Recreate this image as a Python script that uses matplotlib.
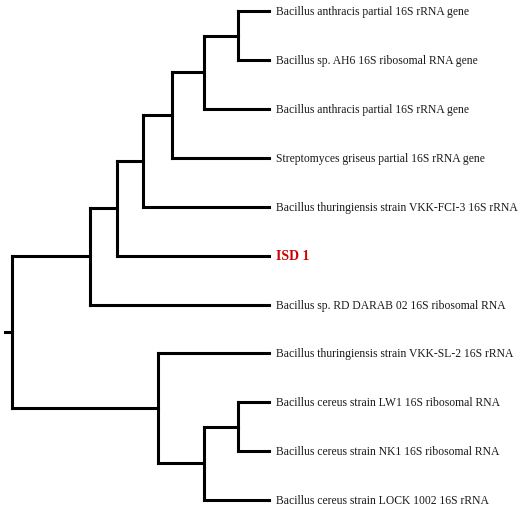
import matplotlib
matplotlib.use("Agg")
import matplotlib.pyplot as plt

# ---- data ----
leaf_labels = [
    "Bacillus anthracis partial 16S rRNA gene",
    "Bacillus sp. AH6 16S ribosomal RNA gene",
    "Bacillus anthracis partial 16S rRNA gene",
    "Streptomyces griseus partial 16S rRNA gene",
    "Bacillus thuringiensis strain VKK-FCI-3 16S rRNA",
    "ISD 1",
    "Bacillus sp. RD DARAB 02 16S ribosomal RNA",
    "Bacillus thuringiensis strain VKK-SL-2 16S rRNA",
    "Bacillus cereus strain LW1 16S ribosomal RNA",
    "Bacillus cereus strain NK1 16S ribosomal RNA",
    "Bacillus cereus strain LOCK 1002 16S rRNA",
]
leaf_depth = [257, 257, 257, 257, 257, 257, 257, 257, 257, 257, 257]
highlight_leaf = "ISD 1"

node_names = ["root", "A", "B", "C", "D", "E", "F", "G", "H", "I"]
node_children = [["A", "G"], ["B", 6], ["C", 5], ["D", 4], ["E", 3],
                 ["F", 2], [0, 1], [7, "H"], ["I", 10], [8, 9]]
node_depth = [0, 78, 105, 131, 160, 192, 226, 146, 192, 226]
root_stub = 7

# ---- layout helpers ----
depth = dict(zip(node_names, node_depth))
children = dict(zip(node_names, node_children))


def ypos(n):
    if isinstance(n, int):
        return float(n)
    ys = [ypos(c) for c in children[n]]
    return (min(ys) + max(ys)) / 2.0


def xpos(n):
    return leaf_depth[n] if isinstance(n, int) else depth[n]


fig = plt.figure(figsize=(5.21, 5.10), dpi=100)
ax = fig.add_axes([0, 0, 1, 1])
ax.set_xlim(-12, 509)
ax.set_ylim(10.184, -0.252)
ax.axis("off")

lw = 2.2
kw = dict(color="black", lw=lw, solid_capstyle="projecting")
for n in node_names:
    x0 = depth[n]
    ys = [ypos(c) for c in children[n]]
    ax.plot([x0, x0], [min(ys), max(ys)], **kw)
    for c in children[n]:
        ax.plot([x0, xpos(c)], [ypos(c), ypos(c)], **kw)

ry = ypos("root")
ax.plot([-root_stub, 0], [ry, ry], **kw)

for i, lab in enumerate(leaf_labels):
    if lab == highlight_leaf:
        ax.text(leaf_depth[i] + 7, i, lab, va="center", ha="left",
                fontsize=10, family="Liberation Serif", color="#d00000",
                fontweight="bold")
    else:
        ax.text(leaf_depth[i] + 7, i, lab, va="center", ha="left",
                fontsize=8.4, family="Liberation Serif", color="#1a1a1a")

fig.savefig("out.png", dpi=100, facecolor="white")
